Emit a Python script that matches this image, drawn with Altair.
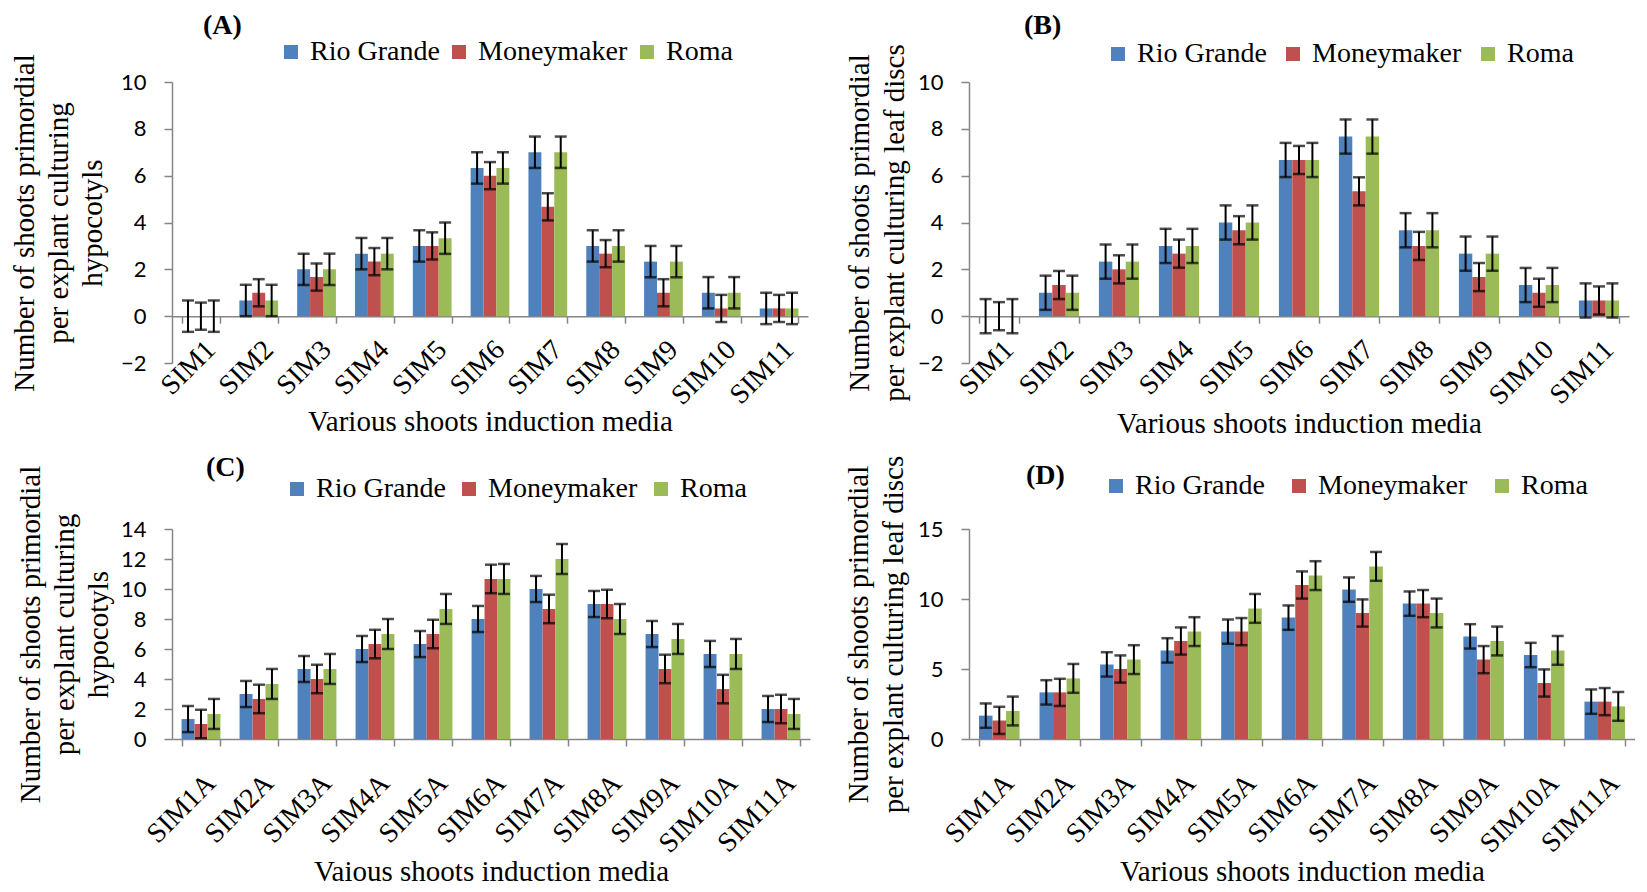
import altair as alt
import pandas as pd

series = ["Rio Grande", "Moneymaker", "Roma"]
colors = ["#4F81BD", "#C0504D", "#9BBB59"]

media_top = ["SIM1", "SIM2", "SIM3", "SIM4", "SIM5", "SIM6", "SIM7", "SIM8", "SIM9", "SIM10", "SIM11"]
media_bottom = ["SIM1A", "SIM2A", "SIM3A", "SIM4A", "SIM5A", "SIM6A", "SIM7A", "SIM8A", "SIM9A", "SIM10A", "SIM11A"]

# (A) hypocotyls
a_rio = [0, 0.67, 2, 2.67, 3, 6.33, 7, 3, 2.33, 1, 0.33]
a_money = [0, 1, 1.67, 2.33, 3, 6, 4.67, 2.67, 1, 0.33, 0.33]
a_roma = [0, 0.67, 2, 2.67, 3.33, 6.33, 7, 3, 2.33, 1, 0.33]
a_rio_err = [0.67, 0.67, 0.67, 0.67, 0.67, 0.67, 0.67, 0.67, 0.67, 0.67, 0.67]
a_money_err = [0.58, 0.58, 0.58, 0.58, 0.58, 0.58, 0.58, 0.58, 0.58, 0.58, 0.58]
a_roma_err = [0.67, 0.67, 0.67, 0.67, 0.67, 0.67, 0.67, 0.67, 0.67, 0.67, 0.67]

# (B) leaf discs
b_rio = [0, 1, 2.33, 3, 4, 6.67, 7.67, 3.67, 2.67, 1.33, 0.67]
b_money = [0, 1.33, 2, 2.67, 3.67, 6.67, 5.33, 3, 1.67, 1, 0.67]
b_roma = [0, 1, 2.33, 3, 4, 6.67, 7.67, 3.67, 2.67, 1.33, 0.67]
b_rio_err = [0.73, 0.73, 0.73, 0.73, 0.73, 0.73, 0.73, 0.73, 0.73, 0.73, 0.73]
b_money_err = [0.6, 0.6, 0.6, 0.6, 0.6, 0.6, 0.6, 0.6, 0.6, 0.6, 0.6]
b_roma_err = [0.73, 0.73, 0.73, 0.73, 0.73, 0.73, 0.73, 0.73, 0.73, 0.73, 0.73]

# (C) hypocotyls
c_rio = [1.33, 3, 4.67, 6, 6.33, 8, 10, 9, 7, 5.67, 2]
c_money = [1, 2.67, 4, 6.33, 7, 10.67, 8.67, 9, 4.67, 3.33, 2]
c_roma = [1.67, 3.67, 4.67, 7, 8.67, 10.67, 12, 8, 6.67, 5.67, 1.67]
c_rio_err = [0.87, 0.87, 0.87, 0.87, 0.87, 0.87, 0.87, 0.87, 0.87, 0.87, 0.87]
c_money_err = [0.95, 0.95, 0.95, 0.95, 0.95, 0.95, 0.95, 0.95, 0.95, 0.95, 0.95]
c_roma_err = [1.0, 1.0, 1.0, 1.0, 1.0, 1.0, 1.0, 1.0, 1.0, 1.0, 1.0]

# (D) leaf discs
d_rio = [1.67, 3.33, 5.33, 6.33, 7.67, 8.67, 10.67, 9.67, 7.33, 6, 2.67]
d_money = [1.33, 3.33, 5, 7, 7.67, 11, 9, 9.67, 5.67, 4, 2.67]
d_roma = [2, 4.33, 5.67, 7.67, 9.33, 11.67, 12.33, 9, 7, 6.33, 2.33]
d_rio_err = [0.87, 0.87, 0.87, 0.87, 0.87, 0.87, 0.87, 0.87, 0.87, 0.87, 0.87]
d_money_err = [0.97, 0.97, 0.97, 0.97, 0.97, 0.97, 0.97, 0.97, 0.97, 0.97, 0.97]
d_roma_err = [1.03, 1.03, 1.03, 1.03, 1.03, 1.03, 1.03, 1.03, 1.03, 1.03, 1.03]

SERIF = "Liberation Serif"
SANS = "Lato"
GRAY = "#868686"


def panel(cats, vals, errs, ymin, ymax, ystep, ytitle, xtitle, letter, g):
    rows = []
    for s, v, e in zip(series, vals, errs):
        for c, vi, ei in zip(cats, v, e):
            rows.append({"media": c, "cultivar": s, "value": vi, "lo": vi - ei, "hi": vi + ei})
    df = pd.DataFrame(rows)
    w, h = g["w"], g["h"]
    zero_px = h * (0 - ymin) / (ymax - ymin)
    ticks = list(range(ymin, ymax + 1, ystep))

    xscale = alt.Scale(paddingInner=0.33, paddingOuter=0.165)
    xaxis = alt.Axis(title=xtitle, labelAngle=-45, labelAlign="right", labelBaseline="top",
                     labelFont=SERIF, labelFontSize=28, labelColor="black",
                     labelPadding=g["lp"], tickBand="extent", tickSize=7, tickColor=GRAY,
                     tickWidth=1.5, domainColor=GRAY, domainWidth=1.5, offset=-zero_px,
                     titleFont=SERIF, titleFontSize=29, titleFontWeight="normal",
                     titleColor="black", titleX=w / 2, titleY=g["xty"],
                     titleBaseline="middle", titleAlign="center")
    xenc = alt.X("media:N", sort=cats, scale=xscale, axis=xaxis)
    xoff = alt.XOffset("cultivar:N", sort=series, scale=alt.Scale(paddingInner=0, paddingOuter=0))
    yscale = alt.Scale(domain=[ymin, ymax], nice=False)
    yaxis = alt.Axis(title=ytitle, values=ticks, tickCount=len(ticks), grid=False,
                     labelOverlap=False, labelFont=SANS,
                     labelFontSize=22, labelColor="black", labelPadding=18, tickSize=8,
                     tickColor=GRAY, tickWidth=1.5, domainColor=GRAY, domainWidth=1.5,
                     titleFont=SERIF, titleFontSize=29, titleFontWeight="normal", titleColor="black",
                     titleLineHeight=g["tlh"], titleX=g["ytx"], titleY=h / 2, titleAngle=-90,
                     titleAlign="center", titleBaseline="middle")
    color = alt.Color("cultivar:N", sort=series, scale=alt.Scale(domain=series, range=colors),
                      legend=alt.Legend(title=None, orient="none", legendX=g["lx"], legendY=g["ly"],
                                        direction="horizontal", columns=3, symbolType="square",
                                        symbolSize=196, symbolStrokeWidth=0, labelFont=SERIF,
                                        labelFontSize=28, labelColor="black", labelOffset=5,
                                        labelLimit=400, columnPadding=g["cp"]))
    base = alt.Chart(df)
    bars = base.mark_bar(strokeWidth=0).encode(
        x=xenc, xOffset=xoff, y=alt.Y("value:Q", scale=yscale, axis=yaxis), color=color)
    stems = base.mark_rule(color="black", strokeWidth=2).encode(
        x=xenc, xOffset=xoff, y=alt.Y("lo:Q", scale=yscale, axis=yaxis), y2="hi:Q")
    cap_lo = base.mark_tick(color="black", thickness=2.5, size=12, orient="horizontal").encode(
        x=xenc, xOffset=xoff, y=alt.Y("lo:Q", scale=yscale, axis=yaxis))
    cap_hi = base.mark_tick(color="black", thickness=2.5, size=12, orient="horizontal").encode(
        x=xenc, xOffset=xoff, y=alt.Y("hi:Q", scale=yscale, axis=yaxis))
    return alt.layer(bars, stems, cap_lo, cap_hi).properties(
        width=w, height=h,
        title=alt.TitleParams(letter, anchor="start", frame="group", dx=g["tdx"], dy=g["tdy"],
                              font=SERIF, fontSize=28, fontWeight="bold", color="black", offset=0))


pa = panel(media_top, [a_rio, a_money, a_roma], [a_rio_err, a_money_err, a_roma_err], -2, 10, 2,
           ["Number of shoots primordial", "per explant culturing", "hypocotyls"],
           "Various shoots induction media", "(A)",
           dict(w=636, h=281, lp=12, xty=105, ytx=-148, tlh=34, lx=105, ly=-44, cp=5, tdx=31, tdy=2))
pb = panel(media_top, [b_rio, b_money, b_roma], [b_rio_err, b_money_err, b_roma_err], -2, 10, 2,
           ["Number of shoots primordial", "per explant culturing leaf discs"],
           "Various shoots induction media", "(B)",
           dict(w=660, h=281, lp=12, xty=107, ytx=-110, tlh=35, lx=135, ly=-42, cp=12, tdx=55, tdy=0))
pc = panel(media_bottom, [c_rio, c_money, c_roma], [c_rio_err, c_money_err, c_roma_err], 0, 14, 2,
           ["Number of shoots primordial", "per explant culturing", "hypocotyls"],
           "Vaious shoots induction media", "(C)",
           dict(w=638, h=210, lp=23, xty=132, ytx=-142, tlh=34, lx=111, ly=-54, cp=9, tdx=34, tdy=17))
pd_ = panel(media_bottom, [d_rio, d_money, d_roma], [d_rio_err, d_money_err, d_roma_err], 0, 15, 5,
            ["Number of shoots primordial", "per explant culturing leaf discs"],
            "Various shoots induction media", "(D)",
            dict(w=666, h=210, lp=23, xty=132, ytx=-111, tlh=35, lx=133, ly=-57, cp=20, tdx=57, tdy=35))

chart = alt.concat(pa, pb, pc, pd_, columns=2, spacing={"row": 15, "column": 33}).resolve_scale(
    color="independent", x="independent", y="independent", xOffset="independent"
).properties(
    padding={"left": 2, "top": 4, "right": 0, "bottom": 0},
    background="white",
).configure_view(stroke=None).configure_axis(labelOverlap=False)

chart.save("out.html", embed_options={"renderer": "svg", "actions": False})
